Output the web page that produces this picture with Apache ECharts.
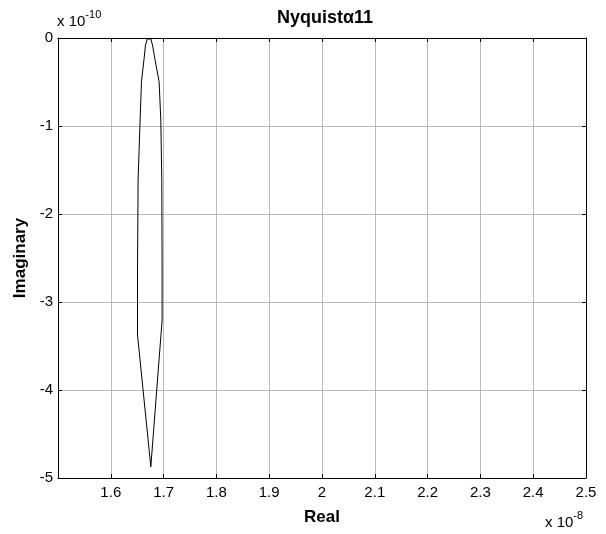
<!DOCTYPE html>
<html>
<head>
<meta charset="utf-8">
<script src="https://cdn.jsdelivr.net/npm/echarts@6/dist/echarts.min.js"></script>
<style>
  html, body { margin: 0; padding: 0; background: #fff; }
  #chart { width: 606px; height: 534px; }
</style>
</head>
<body>
<div id="chart"></div>
<script>
// Nyquist locus, real part in units of 1e-8, imaginary part in units of 1e-10
const realPart = [1.6758, 1.6506, 1.6506, 1.6517, 1.6555, 1.6581, 1.6631, 1.6657, 1.6691, 1.6725,
                  1.6758, 1.6790, 1.6833, 1.6915, 1.6947, 1.6966, 1.6972, 1.6972, 1.6758];
const imagPart = [-4.872, -3.375, -2.636, -1.614, -0.932, -0.497, -0.231, -0.080, -0.011, -0.002,
                  -0.011, -0.080, -0.231, -0.497, -0.932, -1.614, -2.636, -3.205, -4.872];

const xTicks = { min: 1.5, max: 2.5, step: 0.1 };
const yTicks = { min: -5, max: 0, step: 1 };

const chart = echarts.init(document.getElementById('chart'), null, { renderer: 'canvas' });
const font = 'Liberation Sans, Arial, sans-serif';
const points = realPart.map((r, i) => [r, imagPart[i]]);

const gridLine = { show: true, lineStyle: { color: '#b8b8b8', width: 1, type: 'solid' } };
const axisLineStyle = { show: true, onZero: false, lineStyle: { color: '#000', width: 1 } };
const tickStyle = { show: true, inside: true, length: 4, lineStyle: { color: '#000' } };
const boldName = { fontFamily: font, fontWeight: 'bold', fontSize: 17, color: '#000' };

// exponent annotation: "x 10" with a raised power
const exponentRich = {
  b: { fontFamily: font, fontSize: 15, color: '#000', verticalAlign: 'bottom', lineHeight: 20 },
  s: { fontFamily: font, fontSize: 11, color: '#000', verticalAlign: 'top', lineHeight: 20, padding: [0, 0, 9, 0] }
};

chart.setOption({
  animation: false,
  backgroundColor: '#fff',
  title: {
    text: 'Nyquistα11',
    left: 320, top: 4, textAlign: 'center',
    textStyle: { fontFamily: font, fontWeight: 'bold', fontSize: 18, color: '#000' }
  },
  grid: { left: 58, right: 20, top: 38, bottom: 56 },
  xAxis: [
    {
      type: 'value', min: xTicks.min, max: xTicks.max, interval: xTicks.step,
      name: 'Real', nameLocation: 'middle', nameGap: 31,
      nameTextStyle: boldName,
      axisLine: axisLineStyle, axisTick: tickStyle, splitLine: gridLine,
      axisLabel: {
        margin: 7, fontFamily: font, fontSize: 15, color: '#000',
        formatter: v => (v <= xTicks.min + 1e-6 ? '' : String(+v.toFixed(1)))
      }
    },
    {
      type: 'value', position: 'top', min: xTicks.min, max: xTicks.max, interval: xTicks.step,
      axisLine: axisLineStyle, axisTick: tickStyle, splitLine: { show: false },
      axisLabel: { show: false }
    }
  ],
  yAxis: [
    {
      type: 'value', min: yTicks.min, max: yTicks.max, interval: yTicks.step,
      name: 'Imaginary', nameLocation: 'middle', nameGap: 28,
      nameTextStyle: boldName,
      axisLine: axisLineStyle, axisTick: tickStyle, splitLine: gridLine,
      axisLabel: { margin: 5, fontFamily: font, fontSize: 15, color: '#000',
                   formatter: v => String(Math.round(v)) }
    },
    {
      type: 'value', position: 'right', min: yTicks.min, max: yTicks.max, interval: yTicks.step,
      axisLine: axisLineStyle, axisTick: tickStyle, splitLine: { show: false },
      axisLabel: { show: false }
    }
  ],
  graphic: [
    { type: 'text', left: 57, top: 9, style: { text: '{b|x 10}{s|-10}', rich: exponentRich } },
    { type: 'text', left: 545, top: 510, style: { text: '{b|x 10}{s|-8}', rich: exponentRich } }
  ],
  series: [{
    type: 'line',
    data: points,
    showSymbol: false,
    lineStyle: { color: '#000', width: 1 },
    itemStyle: { color: '#000' },
    z: 5
  }]
});
</script>
</body>
</html>
